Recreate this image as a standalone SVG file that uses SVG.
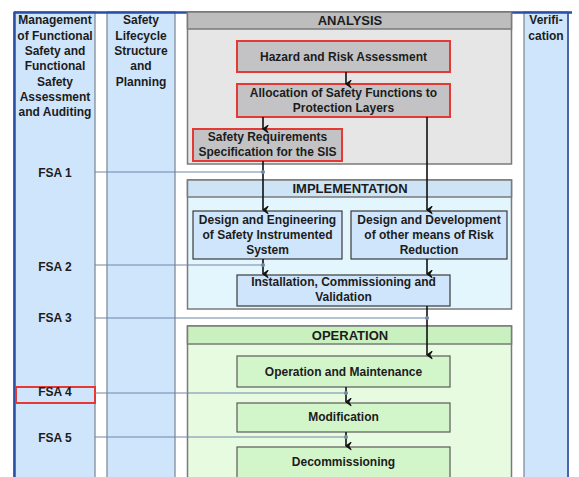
<svg xmlns="http://www.w3.org/2000/svg" width="579" height="477" viewBox="0 0 579 477">
<style>
text{font-family:"Liberation Sans",Arial,sans-serif;font-weight:bold;font-size:12px;fill:#1c1c1c;text-anchor:middle}
.hd{font-size:13px}
.col{fill:#cfe5fb;stroke:#7a8290;stroke-width:1.2}
.area{stroke:#7a7a7a;stroke-width:1.5}
.red{fill:#c3c3c5;stroke:#e53935;stroke-width:2}
.imp{fill:#cfe5fb;stroke:#3a3a3a;stroke-width:1.2}
.op{fill:#d3f5ca;stroke:#5a5a5a;stroke-width:1.2}
.fsa{stroke:#6f87a8;stroke-width:1;fill:none}
.dot{fill:#6f87a8}
.arr{stroke:#111;stroke-width:1.6;fill:none;marker-end:url(#ah)}
</style>
<defs>
<marker id="ah" viewBox="0 0 10 10" refX="5" refY="9" markerWidth="9" markerHeight="9" markerUnits="userSpaceOnUse" orient="auto-start-reverse">
<path d="M1,3.5 L5,9 L9,3.5 L5,6 Z" stroke="#111" stroke-width="1.2" stroke-linejoin="round" fill="#111"/>
</marker>
</defs>
<rect width="579" height="477" fill="#ffffff"/>
<g id="col-management">
<rect class="col" x="14" y="12" width="81" height="470"/>
<line x1="14.5" y1="12" x2="14.5" y2="477" stroke="#2a4ea6" stroke-width="2.5"/>
<text x="55" y="24">Management</text>
<text x="55" y="40">of Functional</text>
<text x="55" y="55">Safety and</text>
<text x="55" y="70">Functional</text>
<text x="55" y="86">Safety</text>
<text x="55" y="101">Assessment</text>
<text x="55" y="116">and Auditing</text>
</g>
<g id="col-lifecycle">
<rect class="col" x="107" y="12" width="68" height="470"/>
<text x="141" y="24">Safety</text>
<text x="141" y="40">Lifecycle</text>
<text x="141" y="55">Structure</text>
<text x="141" y="70">and</text>
<text x="141" y="86">Planning</text>
</g>
<g id="col-verification">
<rect class="col" x="524" y="12" width="44" height="470"/>
<line x1="568" y1="12" x2="568" y2="477" stroke="#2a4ea6" stroke-width="1.5"/>
<text x="546" y="24">Verifi-</text>
<text x="546" y="40">cation</text>
</g>
<line x1="14" y1="12.5" x2="572" y2="12.5" stroke="#2a4ea6" stroke-width="2.5"/>
<g id="analysis">
<rect class="area" x="187.5" y="12" width="324" height="152" fill="#e6e6e6"/>
<rect class="area" x="187.5" y="12" width="324" height="17" fill="#bdbdbd"/>
<text class="hd" x="350" y="25">ANALYSIS</text>
</g>
<g id="hazard">
<rect class="red" x="237" y="41" width="213" height="31"/>
<text x="343.5" y="61">Hazard and Risk Assessment</text>
</g>
<g id="allocation">
<rect class="red" x="237" y="84" width="213" height="33"/>
<text x="343.5" y="97">Allocation of Safety Functions to</text>
<text x="343.5" y="112">Protection Layers</text>
</g>
<g id="srs">
<rect class="red" x="193" y="129" width="149" height="32"/>
<text x="267.5" y="141">Safety Requirements</text>
<text x="267.5" y="156">Specification for the SIS</text>
</g>
<g id="implementation">
<rect class="area" x="187.5" y="180" width="324" height="129" fill="#e4f6fd"/>
<rect class="area" x="187.5" y="180" width="324" height="17" fill="#cde3f6"/>
<text class="hd" x="350" y="193">IMPLEMENTATION</text>
</g>
<g id="design-sis">
<rect class="imp" x="193" y="211" width="149" height="48"/>
<text x="267.5" y="224">Design and Engineering</text>
<text x="267.5" y="239">of Safety Instrumented</text>
<text x="267.5" y="254">System</text>
</g>
<g id="design-other">
<rect class="imp" x="351" y="211" width="156" height="48"/>
<text x="429" y="224">Design and Development</text>
<text x="429" y="239">of other means of Risk</text>
<text x="429" y="254">Reduction</text>
</g>
<g id="installation">
<rect class="imp" x="237" y="275" width="213" height="31"/>
<text x="343.5" y="286">Installation, Commissioning and</text>
<text x="343.5" y="301">Validation</text>
</g>
<g id="operation">
<rect class="area" x="187.5" y="326" width="324" height="160" fill="#e7fbe1"/>
<rect class="area" x="187.5" y="326" width="324" height="18" fill="#c9f1c0"/>
<text class="hd" x="350" y="340">OPERATION</text>
</g>
<g id="om">
<rect class="op" x="237" y="356" width="213" height="31"/>
<text x="343.5" y="376">Operation and Maintenance</text>
</g>
<g id="modification">
<rect class="op" x="237" y="403" width="213" height="29"/>
<text x="343.5" y="421">Modification</text>
</g>
<g id="decommissioning">
<rect class="op" x="237" y="447" width="213" height="35"/>
<text x="343.5" y="466">Decommissioning</text>
</g>
<g id="fsa-labels">
<text x="55" y="177">FSA 1</text>
<text x="55" y="271">FSA 2</text>
<text x="55" y="322">FSA 3</text>
<rect x="16" y="387" width="79" height="16" fill="none" stroke="#e53935" stroke-width="2"/>
<text x="55" y="396">FSA 4</text>
<text x="55" y="442">FSA 5</text>
</g>
<g id="connectors">
<line class="arr" x1="346" y1="72" x2="346" y2="84"/>
<line class="arr" x1="263" y1="117" x2="263" y2="129"/>
<line class="arr" x1="427" y1="117" x2="427" y2="210"/>
<line class="arr" x1="263" y1="161" x2="263" y2="210"/>
<line class="arr" x1="263" y1="259" x2="263" y2="274"/>
<line class="arr" x1="427" y1="259" x2="427" y2="274"/>
<line class="arr" x1="427" y1="306" x2="427" y2="355"/>
<line class="arr" x1="346" y1="387" x2="346" y2="402"/>
<line class="arr" x1="346" y1="432" x2="346" y2="446"/>
<path class="fsa" d="M95,172 L263,172"/>
<circle class="dot" cx="263" cy="172" r="2"/>
<path class="fsa" d="M95,265 L263,265"/>
<circle class="dot" cx="263" cy="265" r="2"/>
<path class="fsa" d="M95,318 L427,318"/>
<circle class="dot" cx="427" cy="318" r="2"/>
<path class="fsa" d="M95,393 L346,393"/>
<circle class="dot" cx="346" cy="393" r="2"/>
<path class="fsa" d="M95,437 L346,437"/>
<circle class="dot" cx="346" cy="437" r="2"/>
</g>
</svg>
